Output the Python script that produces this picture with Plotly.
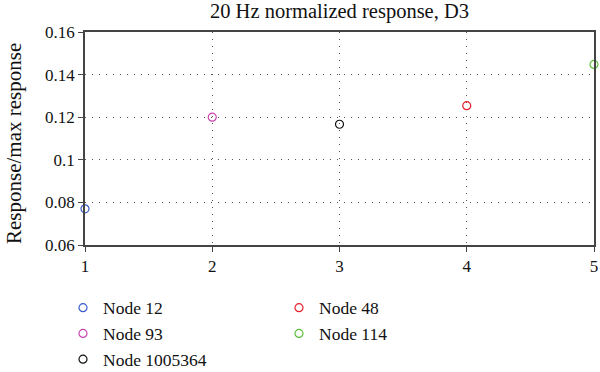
import plotly.graph_objects as go

nodes = ["Node 12", "Node 93", "Node 1005364", "Node 48", "Node 114"]
x_vals = [1, 2, 3, 4, 5]
y_vals = [0.0770, 0.1200, 0.1167, 0.1254, 0.1448]
colors = ["#3a5cc8", "#c845b0", "#111111", "#e8202a", "#5cbf3a"]
legend_group = ["legend", "legend", "legend", "legend2", "legend2"]

FONT = "Liberation Serif"

fig = go.Figure()
for name, xv, yv, c, lg in zip(nodes, x_vals, y_vals, colors, legend_group):
    fig.add_trace(go.Scatter(
        x=[xv], y=[yv], mode="markers", name=name,
        marker=dict(symbol="circle-open", size=8, color=c, line=dict(width=1.2, color=c)),
        cliponaxis=False, legend=lg,
    ))

axis_common = dict(
    showline=True, linecolor="#444444", linewidth=1.5, mirror=True,
    showgrid=True, gridcolor="#555555", gridwidth=1, griddash="1px,6px",
    ticks="outside", ticklen=5, tickcolor="#444444", tickwidth=1.2,
    zeroline=False, automargin=False,
    tickfont=dict(family=FONT, size=17, color="#111111"),
)

legend_common = dict(yref="container", y=0.221, xanchor="left", yanchor="top",
                     orientation="v", font=dict(family=FONT, size=17.5), tracegroupgap=0,
                     itemsizing="trace", bgcolor="rgba(0,0,0,0)")

fig.update_layout(
    width=600, height=372,
    margin=dict(l=85, r=6, t=32, b=127, autoexpand=False),
    paper_bgcolor="white", plot_bgcolor="white",
    font=dict(family=FONT, size=17, color="#111111"),
    title=dict(text="20 Hz normalized response, D3", x=0.5, xref="paper", xanchor="center",
               y=0.99, yanchor="top", automargin=False, font=dict(family=FONT, size=20.5)),
    xaxis=dict(range=[1, 5], tickvals=[1, 2, 3, 4, 5], ticktext=["1", "2", "3", "4", "5"], **axis_common),
    yaxis=dict(range=[0.06, 0.16], tickvals=[0.06, 0.08, 0.1, 0.12, 0.14, 0.16],
               ticktext=["0.06", "0.08", "0.1", "0.12", "0.14", "0.16"],
               **axis_common),
    legend=dict(xref="container", x=0.105, **legend_common),
    legend2=dict(xref="container", x=0.465, **legend_common),
    showlegend=True,
    annotations=[dict(text="Response/max response", xref="paper", yref="paper",
                      x=-0.1395, y=0.479, xanchor="center", yanchor="middle",
                      textangle=-90, showarrow=False,
                      font=dict(family=FONT, size=21, color="#111111"))],
)

fig.write_html("out.html", post_script="document.body.style.margin='0';",
               config={"displayModeBar": False})
